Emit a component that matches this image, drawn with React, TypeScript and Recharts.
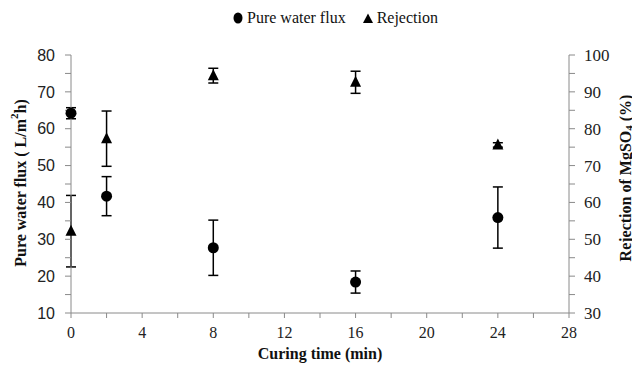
import React from 'react';
import { ScatterChart, Scatter, XAxis, YAxis, ErrorBar } from 'recharts';

const curingTimes = [0, 2, 8, 16, 24];
const fluxValues = [64.2, 41.7, 27.7, 18.4, 35.9];
const fluxErrors = [1.5, 5.3, 7.5, 3.0, 8.3];
const rejectionValues = [52.2, 77.3, 94.4, 92.6, 75.6];
const rejectionErrors = [9.7, 7.5, 2.0, 3.0, 0.6];

const xTicks = [0, 2, 4, 6, 8, 10, 12, 14, 16, 18, 20, 22, 24, 26, 28];
const leftTicks = [10, 15, 20, 25, 30, 35, 40, 45, 50, 55, 60, 65, 70, 75, 80];
const rightTicks = [30, 35, 40, 45, 50, 55, 60, 65, 70, 75, 80, 85, 90, 95, 100];

const fluxData = curingTimes.map((t, i) => ({ x: t, y: fluxValues[i], err: fluxErrors[i] }));
const rejectionData = curingTimes.map((t, i) => ({ x: t, y: rejectionValues[i], err: rejectionErrors[i] }));

const AXIS = '#8a8a8a';
const SERIF = '"Liberation Serif", "Times New Roman", serif';
const SANS = '"Liberation Sans", Arial, sans-serif';

const DotShape = (p: any) => <circle cx={p.cx} cy={p.cy} r={5.5} fill="#000" />;
const TriShape = (p: any) => (
  <polygon
    points={`${p.cx},${p.cy - 6.5} ${p.cx - 5.5},${p.cy + 4.5} ${p.cx + 5.5},${p.cy + 4.5}`}
    fill="#000"
  />
);

const LeftTitle = (props: any) => {
  const vb = props.viewBox || { x: 0, y: 0, width: 0, height: 0 };
  const cx = vb.x - 1;
  const cy = vb.y + vb.height / 2 - 1;
  return (
    <text
      x={cx}
      y={cy}
      transform={`rotate(-90 ${cx} ${cy})`}
      textAnchor="middle"
      dominantBaseline="central"
      fontFamily={SERIF}
      fontWeight="bold"
      fontSize={16}
      fill="#111"
    >
      Pure water flux ( L/m
      <tspan dy={-6} fontSize={11}>2</tspan>
      <tspan dy={6}>h)</tspan>
    </text>
  );
};

const RightTitle = (props: any) => {
  const vb = props.viewBox || { x: 0, y: 0, width: 0, height: 0 };
  const cx = vb.x + vb.width + 6;
  const cy = vb.y + vb.height / 2 - 6;
  return (
    <text
      x={cx}
      y={cy}
      transform={`rotate(-90 ${cx} ${cy})`}
      textAnchor="middle"
      dominantBaseline="central"
      fontFamily={SERIF}
      fontWeight="bold"
      fontSize={16}
      fill="#111"
    >
      Rejection of MgSO
      <tspan dy={4} fontSize={11}>4</tspan>
      <tspan dy={-4}> (%)</tspan>
    </text>
  );
};

const XTitle = (props: any) => {
  const vb = props.viewBox || { x: 0, y: 0, width: 0, height: 0 };
  return (
    <text
      x={vb.x + vb.width / 2}
      y={vb.y + 46}
      textAnchor="middle"
      fontFamily={SERIF}
      fontWeight="bold"
      fontSize={16}
      fill="#111"
    >
      Curing time (min)
    </text>
  );
};

export default function App() {
  return (
    <div style={{ position: 'relative', width: 632, height: 364 }}>
      <ScatterChart width={632} height={364} margin={{ top: 47, right: 21, bottom: 19, left: 13 }}>
        <XAxis
          type="number"
          dataKey="x"
          domain={[0, 28]}
          ticks={xTicks}
          interval={0}
          tickFormatter={(v: number) => (v % 4 === 0 ? String(v) : '')}
          stroke={AXIS}
          tickSize={5}
          tickMargin={9}
          height={40}
          tick={{ fontFamily: SERIF, fontSize: 16, fill: '#222' }}
          tickLine={{ stroke: AXIS }}
          label={XTitle}
        />
        <YAxis
          yAxisId="left"
          type="number"
          dataKey="y"
          domain={[10, 80]}
          ticks={leftTicks}
          interval={0}
          tickFormatter={(v: number) => (v % 10 === 0 ? String(v) : '')}
          stroke={AXIS}
          tickSize={6}
          tickMargin={10}
          width={50}
          tick={{ fontFamily: SANS, fontSize: 16, fill: '#222' }}
          tickLine={{ stroke: AXIS }}
          label={LeftTitle}
        />
        <YAxis
          yAxisId="right"
          orientation="right"
          type="number"
          dataKey="y"
          domain={[30, 100]}
          ticks={rightTicks}
          interval={0}
          tickFormatter={(v: number) => (v % 10 === 0 ? String(v) : '')}
          stroke={AXIS}
          tickSize={6}
          tickMargin={9}
          width={50}
          tick={{ fontFamily: SERIF, fontSize: 17, fill: '#222' }}
          tickLine={{ stroke: AXIS }}
          label={RightTitle}
        />
        <Scatter
          name="Pure water flux"
          data={fluxData}
          yAxisId="left"
          shape={DotShape}
          isAnimationActive={false}
        >
          <ErrorBar dataKey="err" direction="y" width={5} stroke="#000" strokeWidth={1.5} />
        </Scatter>
        <Scatter
          name="Rejection"
          data={rejectionData}
          yAxisId="right"
          shape={TriShape}
          isAnimationActive={false}
        >
          <ErrorBar dataKey="err" direction="y" width={5} stroke="#000" strokeWidth={1.5} />
        </Scatter>
      </ScatterChart>
      <div
        style={{
          position: 'absolute',
          top: 1,
          left: 224,
          display: 'flex',
          alignItems: 'center',
          fontFamily: SERIF,
          fontSize: 16,
          color: '#111',
          whiteSpace: 'nowrap',
        }}
      >
        <svg width={12} height={12} style={{ marginRight: 3 }}>
          <ellipse cx={6} cy={6} rx={4.5} ry={5.5} fill="#000" />
        </svg>
        <span>Pure water flux</span>
        <svg width={12} height={12} style={{ marginLeft: 16, marginRight: 3 }}>
          <polygon points="6,1.5 1,11 11,11" fill="#000" />
        </svg>
        <span>Rejection</span>
      </div>
    </div>
  );
}
